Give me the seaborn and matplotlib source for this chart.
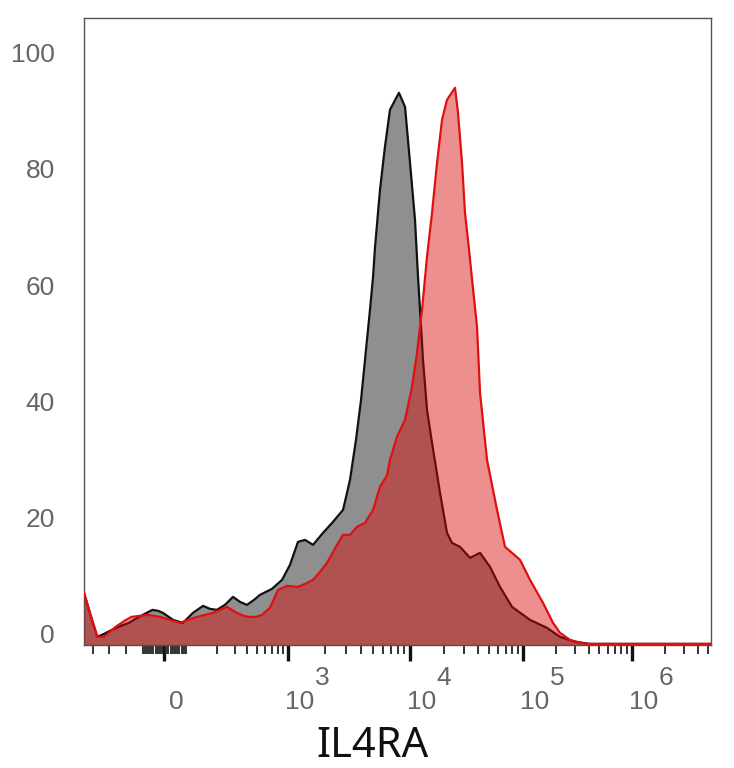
import numpy as np
import seaborn as sns
import matplotlib.pyplot as plt
from matplotlib.ticker import FixedLocator, NullFormatter

## Data (x = IL4RA intensity, y = % of max)
control_x = [-470, -418, -370, -328, -280, -226, -178, -118, -55, -27, -5, 41, 86,
             117, 147, 172, 201, 241, 289, 338, 396, 464, 531, 608, 697, 874,
             1038, 1207, 1378, 1603, 1936, 2337, 2824, 3045, 3222, 3607, 3968, 4357,
             4698, 4977, 5169, 5676, 6230, 6853, 8113, 9100, 10000, 11070, 11770,
             12260, 13030, 14140, 15660, 18430, 21250, 23530, 27700, 33960, 41640,
             51050, 62590, 79930, 115900, 166000, 218500, 300000, 411800, 5.3e6]
control_y = [6.98, 3.19, -0.60, -0.09, 0.60, 1.29, 1.81, 2.84, 4.05, 3.88, 3.53, 2.33, 1.81,
             3.53, 4.74, 4.22, 4.05, 4.91, 6.29, 5.43, 4.91, 5.77, 6.63, 7.15, 7.67, 9.22,
             11.80, 15.76, 16.11, 15.25, 17.31, 19.21, 21.27, 24.20, 26.45, 33.33, 40.22, 48.84,
             55.73, 61.42, 66.58, 76.40, 83.81, 90.19, 93.12, 90.71, 81.05, 71.23, 61.42,
             55.73, 47.11, 38.50, 32.82, 24.20, 17.31, 15.59, 14.90, 13.01, 13.87,
             11.46, 8.01, 4.56, 2.33, 0.95, -0.60, -1.46, -1.81, -1.81]

il4ra_x = [-470, -418, -370, -328, -256, -208, -160, -77, -18, 27, 73,
           105, 128, 154, 184, 215, 252, 316, 370, 424, 485, 556, 665, 799, 979,
           1207, 1378, 1603, 1829, 2087, 2522, 2824, 3222, 3675, 4276, 4977, 5676,
           6471, 6853, 7815, 9100, 10416, 11530, 12770, 14140, 15660, 17340, 19200,
           21250, 25020, 26590, 28850, 30660, 33280, 35380, 39160, 41640, 48020,
           58870, 69290, 79930, 94080, 115900, 152600, 188400, 218500, 269900,
           370500, 5.3e6]
il4ra_y = [6.98, 3.19, -0.60, -0.60, 1.12, 2.15, 2.84, 3.19, 2.84, 2.33, 1.81,
           2.33, 2.84, 3.19, 3.53, 4.05, 4.56, 3.53, 3.01, 2.84, 2.84, 3.19, 4.39, 7.49, 8.18,
           8.01, 8.53, 9.22, 10.59, 12.14, 15.25, 16.97, 16.97, 18.35, 19.04, 21.27, 25.24,
           27.20, 29.89, 33.85, 36.78, 42.46, 48.32, 55.73, 64.86, 72.44, 81.05, 88.46,
           91.91, 93.98, 89.67, 81.05, 72.44, 66.06, 61.00, 52.80, 41.43, 29.89,
           21.27, 14.90, 13.87, 12.66, 9.22, 5.25, 1.81, 0.09, -1.12,
           -1.81, -1.81]

major_ticks = [0, 1e3, 1e4, 1e5, 1e6]
major_labels = ['0', '10', '10', '10', '10']
exponents = ['', '3', '4', '5', '6']
minor_ticks = ([-400, -300, -200, -100, 100] + list(range(-90, 0, 10)) + list(range(10, 100, 10))
               + list(range(200, 1000, 100)) + list(range(2000, 10000, 1000))
               + list(range(20000, 100000, 10000)) + list(range(200000, 1000000, 100000))
               + [2e6, 3e6, 4e6, 5e6])
y_ticks = [0, 20, 40, 60, 80, 100]

## biexponential-like axis: linear around zero, log-ish above
def _v(x):
    x = np.asarray(x, float)
    a = np.abs(x)
    big = np.sign(x) * (1 + np.log10(np.maximum(a, 100) / 100))
    return np.where(a <= 100, x / 100, big)

def _vinv(v):
    v = np.asarray(v, float)
    a = np.abs(v)
    big = np.sign(v) * 100 * 10 ** (np.maximum(a, 1) - 1)
    return np.where(a <= 1, v * 100, big)

_V = _v([-1e10, -1000, -400, -300, -200, -100, 0, 100, 1000, 1e4, 1e5, 1e6, 1e7, 1e12])
_P = np.array([-982, 42, 93, 109, 126, 143, 164, 186, 288, 410, 523, 632, 741, 1286], float)

def fwd(x):
    return np.interp(_v(x), _V, _P)

def inv(p):
    return _vinv(np.interp(p, _P, _V))

## Plotting
sns.set_theme(style='white')
plt.rcParams['font.family'] = ['Liberation Sans', 'DejaVu Sans']

fig = plt.figure(figsize=(7.34, 7.68), dpi=100)
ax = fig.add_axes([84/734, 123/768, 627/734, 627/768])

ybase = -2
ax.fill_between(control_x, control_y, ybase, color='#8f8f8f', lw=0, zorder=1)
sns.lineplot(x=control_x, y=control_y, ax=ax, color='#111111', lw=1.6, sort=False, estimator=None, zorder=2)
ax.fill_between(il4ra_x, il4ra_y, ybase, color='#d90808', alpha=0.45, lw=0, zorder=3)
sns.lineplot(x=il4ra_x, y=il4ra_y, ax=ax, color='#e01010', lw=1.6, sort=False, estimator=None, zorder=4)

ax.set_xscale('function', functions=(fwd, inv))
ax.set_xlim(-470, 5.3e6)
ax.set_ylim(ybase, 106)

ax.xaxis.set_major_locator(FixedLocator(major_ticks))
ax.xaxis.set_minor_locator(FixedLocator(minor_ticks))
ax.xaxis.set_major_formatter(NullFormatter())
ax.xaxis.set_minor_formatter(NullFormatter())
ax.tick_params(axis='x', which='major', bottom=True, length=11.5, width=2.4, color='#111111')
ax.tick_params(axis='x', which='minor', bottom=True, length=6.5, width=1.4, color='#333333')

for t, lab, e in zip(major_ticks, major_labels, exponents):
    ax.annotate(lab, xy=(t, 0), xycoords=('data', 'axes fraction'), xytext=(12, -57),
                textcoords='offset pixels', ha='center', va='center', fontsize=19, color='#666666')
    if e:
        ax.annotate(e, xy=(t, 0), xycoords=('data', 'axes fraction'), xytext=(34, -33),
                    textcoords='offset pixels', ha='center', va='center', fontsize=19, color='#666666')

ax.set_yticks(y_ticks)
ax.set_yticklabels([str(v) for v in y_ticks])
ax.tick_params(axis='y', length=0, pad=21, labelsize=19, labelcolor='#666666')

for s in ax.spines.values():
    s.set_color('#555555')
    s.set_linewidth(1.0)

ax.set_xlabel('IL4RA', fontsize=30, family=['Noto Sans', 'DejaVu Sans'], color='#111111', va='baseline')
ax.xaxis.set_label_coords((372 - 84) / 627, (645 - 757) / 627)

plt.savefig('out.png', dpi=100)
plt.close()
